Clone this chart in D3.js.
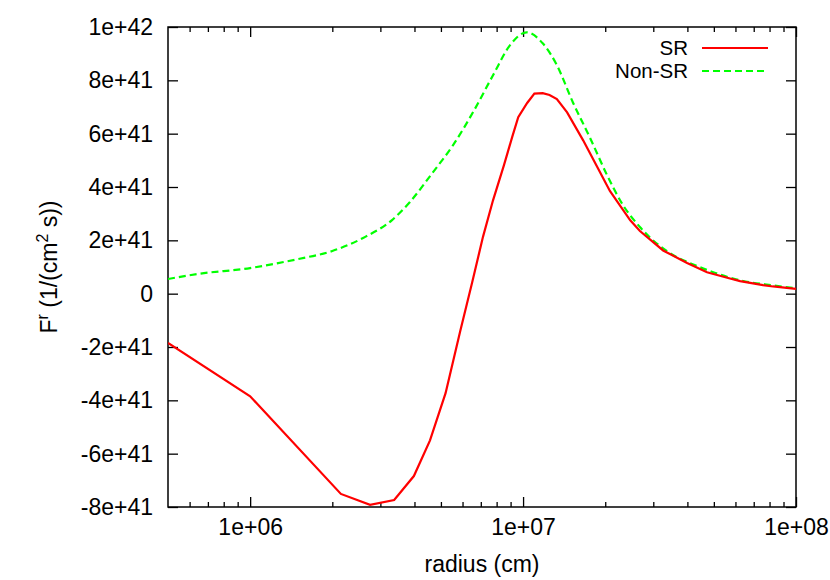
<!DOCTYPE html>
<html><head><meta charset="utf-8">
<script src="https://cdn.jsdelivr.net/npm/d3@7"></script>
<style>body{margin:0;background:#fff} text{font-family:"Liberation Sans",Arial,sans-serif}</style>
</head><body><svg id="c" width="830" height="580"></svg>
<script>
const radiusSR = [5e5, 1e6, 2.15e6, 2.75e6, 3.37e6, 3.98e6, 4.56e6, 5.2e6, 5.88e6, 6.5e6, 7.13e6, 7.76e6, 8.5e6, 9.12e6, 9.6e6, 1.035e7, 1.1e7, 1.18e7, 1.25e7, 1.33e7, 1.45e7, 1.66e7, 1.87e7, 2.08e7, 2.47e7, 2.68e7, 3.26e7, 3.99e7, 4.72e7, 5.73e7, 6.24e7, 7.57e7, 8.24e7, 1e8];
const fluxSR = [-1.85e41, -3.85e41, -7.51e41, -7.92e41, -7.74e41, -6.84e41, -5.5e41, -3.73e41, -1.42e41, 0.4e41, 2.13e41, 3.5e41, 4.8e41, 5.87e41, 6.62e41, 7.15e41, 7.5e41, 7.52e41, 7.45e41, 7.3e41, 6.8e41, 5.75e41, 4.75e41, 3.85e41, 2.75e41, 2.35e41, 1.62e41, 1.15e41, 0.8e41, 0.57e41, 0.47e41, 0.32e41, 0.27e41, 0.18e41];
const radiusNonSR = [5e5, 6.45e5, 1e6, 1.5e6, 2e6, 2.64e6, 3.31e6, 3.85e6, 4.68e6, 5.54e6, 6.56e6, 7.77e6, 8.96e6, 1.03e7, 1.18e7, 1.33e7, 1.52e7, 1.76e7, 2.03e7, 2.32e7, 2.68e7, 3.54e7, 4.08e7, 4.72e7, 6.24e7, 8.24e7, 1e8];
const fluxNonSR = [0.55e41, 0.74e41, 0.96e41, 1.3e41, 1.6e41, 2.13e41, 2.76e41, 3.44e41, 4.56e41, 5.57e41, 6.81e41, 8.2e41, 9.32e41, 9.8e41, 9.39e41, 8.57e41, 7.19e41, 5.84e41, 4.45e41, 3.33e41, 2.5e41, 1.45e41, 1.15e41, 0.89e41, 0.5e41, 0.31e41, 0.2e41];
const xTickValues = [1e6, 1e7, 1e8];
const xTickLabels = ["1e+06", "1e+07", "1e+08"];
const xMinorTicks = [6e5,7e5,8e5,9e5,2e6,3e6,4e6,5e6,6e6,7e6,8e6,9e6,2e7,3e7,4e7,5e7,6e7,7e7,8e7,9e7];
const yTickValues = [-8e41,-6e41,-4e41,-2e41,0,2e41,4e41,6e41,8e41,1e42];
const yTickLabels = ["-8e+41","-6e+41","-4e+41","-2e+41","0","2e+41","4e+41","6e+41","8e+41","1e+42"];
const seriesNames = ["SR", "Non-SR"];

const L=168, R=796, T=27, B=507;
const svg = d3.select("#c");
const x = d3.scaleLog().domain([5e5, 1e8]).range([L, R]);
const y = d3.scaleLinear().domain([-8e41, 1e42]).range([B, T]);
const fs = 23;

function styleAxis(g){ g.select(".domain").remove(); g.selectAll("line").attr("stroke","#000").attr("stroke-width",1.3); g.selectAll("text").attr("font-size",fs).attr("fill","#000").attr("font-family","Liberation Sans, Arial, sans-serif"); }

svg.append("g").attr("transform",`translate(${L},0)`).call(d3.axisLeft(y).tickValues(yTickValues).tickSize(-10).tickPadding(15).tickFormat((d,i)=>yTickLabels[i])).call(styleAxis);
svg.append("g").attr("transform",`translate(${R},0)`).call(d3.axisRight(y).tickValues(yTickValues).tickSize(-10).tickFormat("")).call(styleAxis);
svg.append("g").attr("transform",`translate(0,${B})`).call(d3.axisBottom(x).tickValues(xTickValues).tickSize(-10).tickPadding(12).tickFormat((d,i)=>xTickLabels[i])).call(styleAxis);
svg.append("g").attr("transform",`translate(0,${B})`).call(d3.axisBottom(x).tickValues(xMinorTicks).tickSize(-5).tickFormat("")).call(styleAxis);
svg.append("g").attr("transform",`translate(0,${T})`).call(d3.axisTop(x).tickValues(xTickValues).tickSize(-10).tickFormat("")).call(styleAxis);
svg.append("g").attr("transform",`translate(0,${T})`).call(d3.axisTop(x).tickValues(xMinorTicks).tickSize(-5).tickFormat("")).call(styleAxis);

svg.append("rect").attr("x",L).attr("y",T).attr("width",R-L).attr("height",B-T).attr("fill","none").attr("stroke","#000").attr("stroke-width",1.5);

svg.append("clipPath").attr("id","clp").append("rect").attr("x",L).attr("y",T).attr("width",R-L).attr("height",B-T);

const lineSR = d3.line().x((d,i)=>x(radiusSR[i])).y(d=>y(d)).curve(d3.curveLinear);
const lineNon = d3.line().x((d,i)=>x(radiusNonSR[i])).y(d=>y(d)).curve(d3.curveMonotoneX);

svg.append("path").attr("d",lineNon(fluxNonSR)).attr("fill","none").attr("stroke","#00ff00").attr("stroke-width",2.2).attr("stroke-dasharray","7,4").attr("clip-path","url(#clp)");
svg.append("path").attr("d",lineSR(fluxSR)).attr("fill","none").attr("stroke","#ff0000").attr("stroke-width",2.2).attr("clip-path","url(#clp)");

// legend
const leg = svg.append("g");
[["#ff0000",null],["#00ff00","7,4"]].forEach((s,i)=>{
  const yy = 48 + i*23;
  leg.append("text").attr("x",688).attr("y",yy).attr("dy","0.35em").attr("text-anchor","end").attr("font-size",20.5).text(seriesNames[i]);
  leg.append("line").attr("x1",702).attr("x2",768).attr("y1",yy).attr("y2",yy).attr("stroke",s[0]).attr("stroke-width",2.2).attr("stroke-dasharray",s[1]);
});

// axis titles
svg.append("text").attr("x",(L+R)/2).attr("y",572).attr("text-anchor","middle").attr("font-size",fs).text("radius (cm)");
const yt = svg.append("text").attr("transform",`translate(57,${(T+B)/2}) rotate(-90)`).attr("text-anchor","middle").attr("font-size",fs);
yt.append("tspan").text("F");
yt.append("tspan").attr("dy",-9).attr("font-size",16).text("r");
yt.append("tspan").attr("dy",9).text(" (1/(cm");
yt.append("tspan").attr("dy",-9).attr("font-size",16).text("2");
yt.append("tspan").attr("dy",9).text(" s))");
</script></body></html>
